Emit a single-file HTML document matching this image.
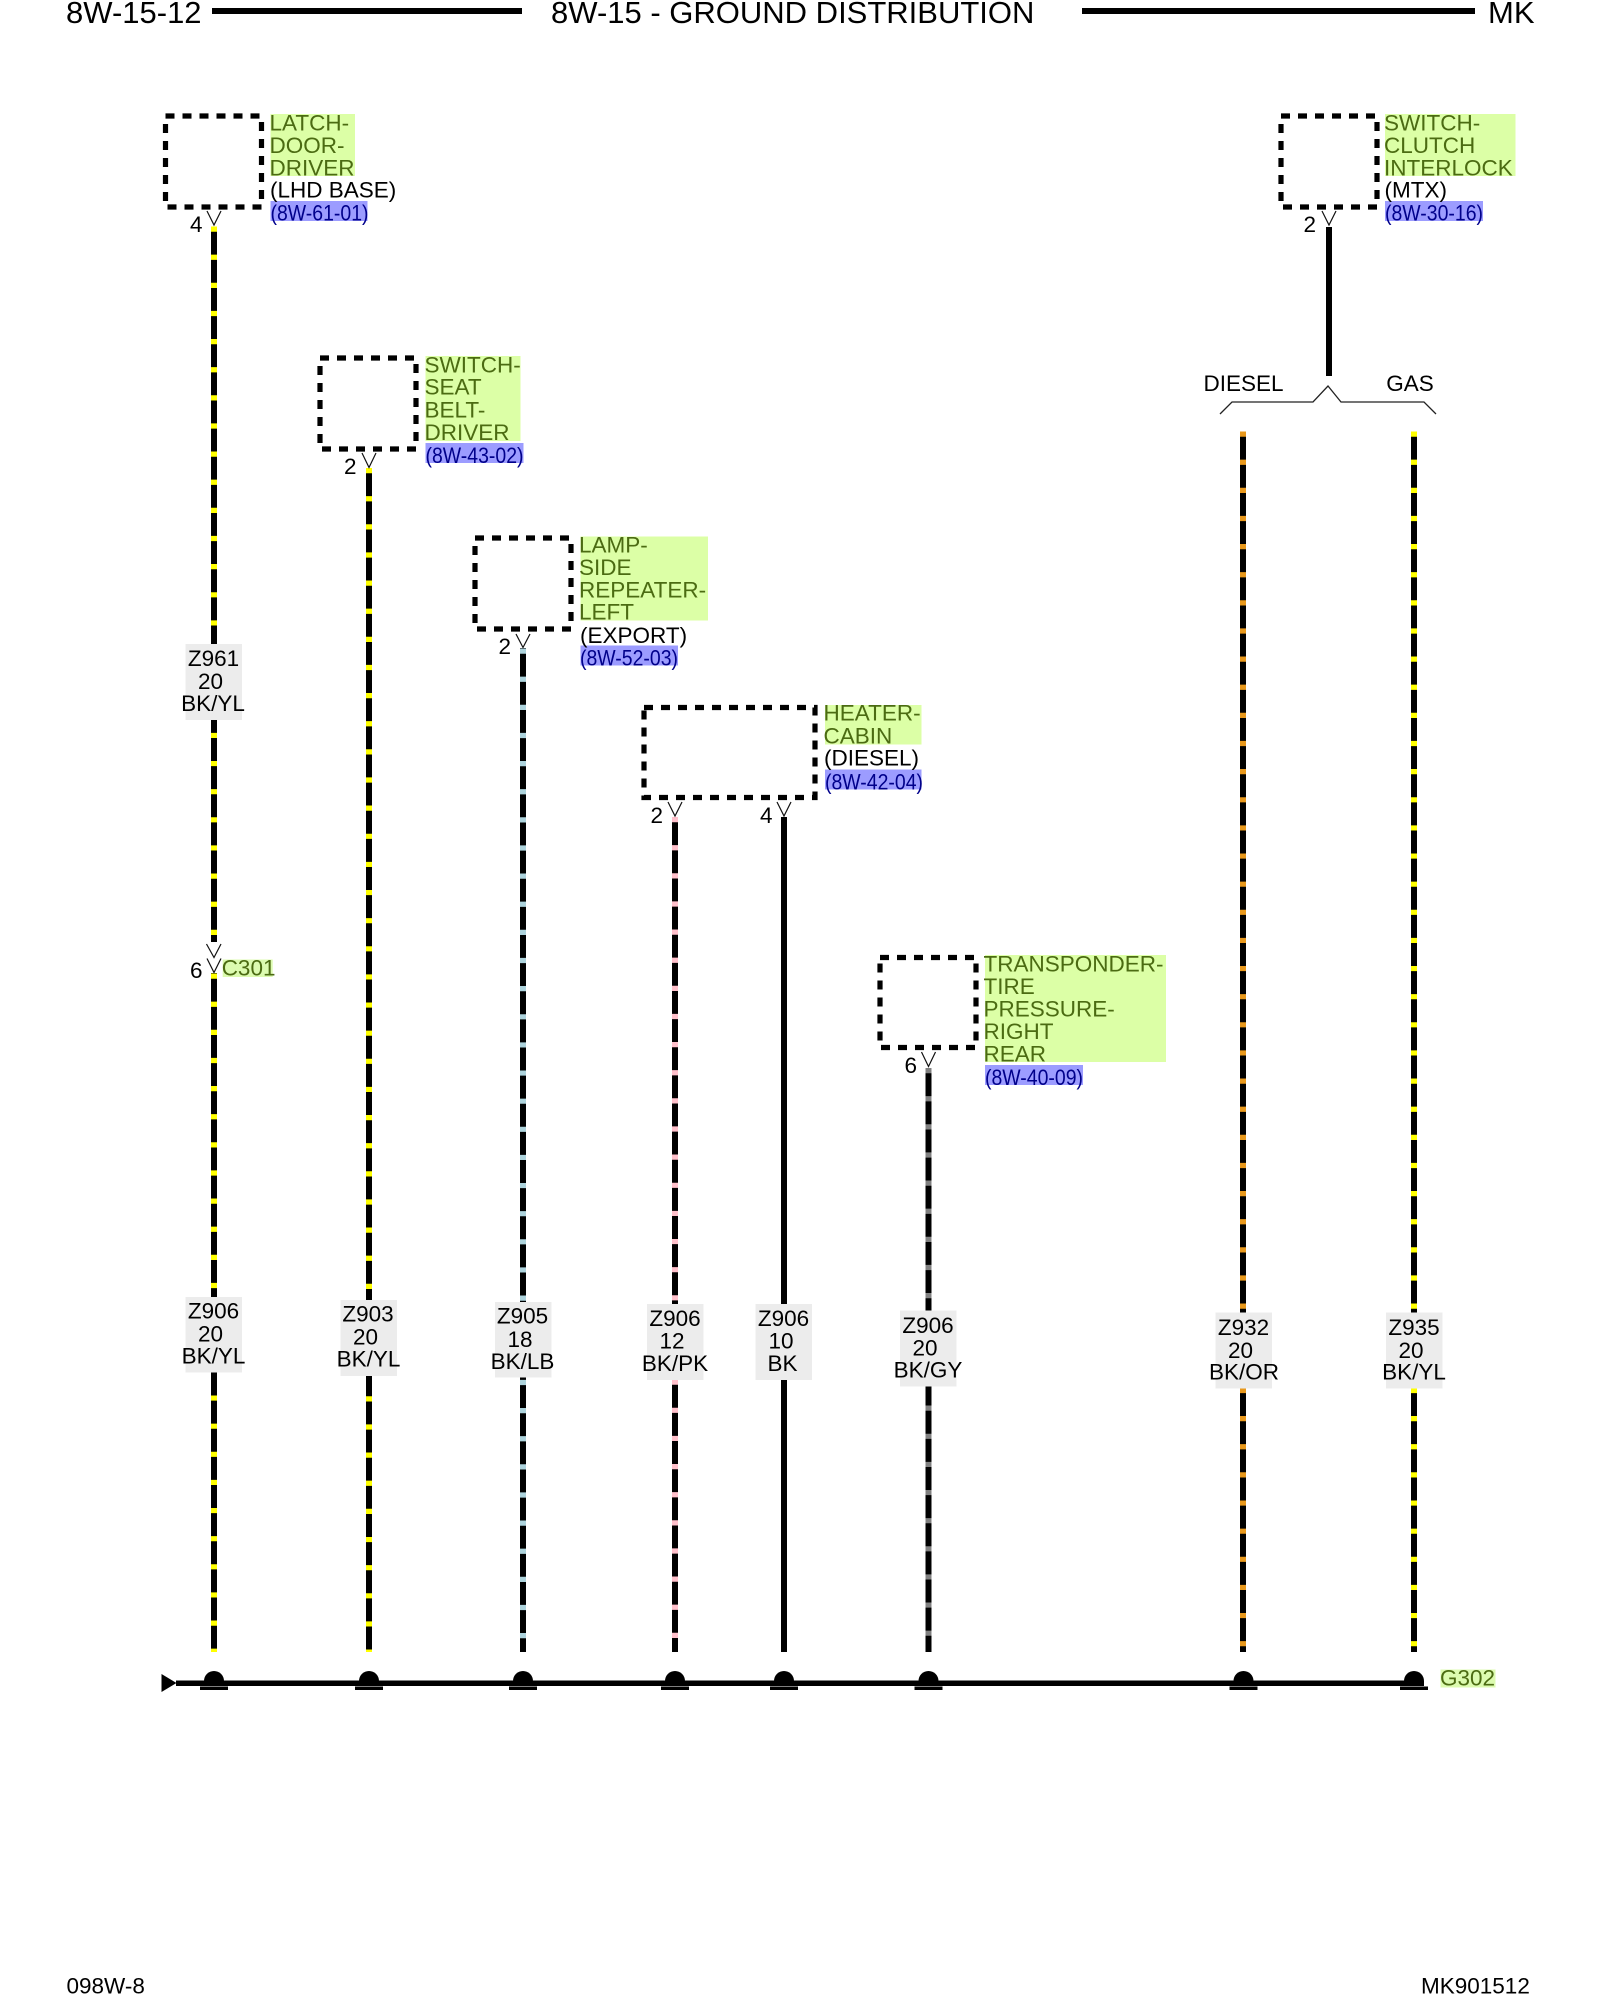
<!DOCTYPE html>
<html><head><meta charset="utf-8"><style>
html,body{margin:0;padding:0;background:#fff;width:1600px;height:2000px;overflow:hidden}
svg{display:block}
text{font-family:"Liberation Sans",Arial,sans-serif;font-size:22.5px;fill:#000}
.h{font-size:31px}
.g{fill:#4b6b12}
.b{fill:#00008b}
.m{text-anchor:middle}
.e{text-anchor:end}
.box{fill:none;stroke:#000;stroke-width:5.2;stroke-dasharray:9 8}
.w{stroke:#000;stroke-width:6;fill:none}
.s{stroke-width:6;stroke-dasharray:5.2 22.93;fill:none}
.v{fill:none;stroke:#111;stroke-width:1.2}
</style></head><body>
<svg width="1600" height="2000" viewBox="0 0 1600 2000" xmlns="http://www.w3.org/2000/svg">
<rect width="1600" height="2000" fill="#fff"/>

<!-- header -->
<text class="h" x="66" y="23">8W-15-12</text>
<rect x="212" y="8" width="310" height="6"/>
<text class="h" x="551" y="23">8W-15 - GROUND DISTRIBUTION</text>
<rect x="1082" y="8" width="393" height="6"/>
<text class="h" x="1488" y="23">MK</text>

<!-- boxes -->
<rect class="box" x="165.500" y="116" width="96" height="91"/>
<rect class="box" x="320" y="358" width="96" height="91"/>
<rect class="box" x="475" y="538" width="96" height="91"/>
<rect class="box" x="644" y="707.500" width="171" height="90"/>
<rect class="box" x="880" y="957.500" width="96" height="90"/>
<rect class="box" x="1281" y="116" width="96" height="91"/>

<!-- wires -->
<line class="w" x1="214" y1="227" x2="214" y2="942"/>
<line class="s" stroke="#ffff00" x1="214" y1="226.500" x2="214" y2="942"/>
<line class="w" x1="214" y1="973" x2="214" y2="1652"/>
<line class="s" stroke="#ffff00" x1="214" y1="973.500" x2="214" y2="1652"/>
<line class="w" x1="369" y1="468" x2="369" y2="1652"/>
<line class="s" stroke="#ffff00" x1="369" y1="468" x2="369" y2="1652"/>
<line class="w" x1="523" y1="648" x2="523" y2="1652"/>
<line class="s" stroke="#add3dc" x1="523" y1="648.500" x2="523" y2="1652"/>
<line class="w" x1="675" y1="817" x2="675" y2="1652"/>
<line class="s" stroke="#ffc0cb" x1="675" y1="817" x2="675" y2="1652"/>
<line class="w" x1="784" y1="817" x2="784" y2="1652"/>
<line class="w" x1="928.500" y1="1068" x2="928.500" y2="1652"/>
<line class="s" stroke="#808080" x1="928.500" y1="1068" x2="928.500" y2="1652"/>
<line class="w" x1="1243" y1="431.500" x2="1243" y2="1652"/>
<line class="s" stroke="#e8981c" x1="1243" y1="431.500" x2="1243" y2="1652"/>
<line class="w" x1="1414" y1="431.500" x2="1414" y2="1652"/>
<line class="s" stroke="#ffff00" x1="1414" y1="431.500" x2="1414" y2="1652"/>
<line class="w" x1="1329" y1="227" x2="1329" y2="376"/>

<!-- connector pins -->
<polyline class="v" points="207,211 214,225 221,211"/><text class="e" x="202.500" y="232">4</text>
<polyline class="v" points="362,453 369,467.500 376,453"/><text class="e" x="356.500" y="474">2</text>
<polyline class="v" points="516,634 523,647.500 530,634"/><text class="e" x="511" y="654">2</text>
<polyline class="v" points="668,802 675,816 682,802"/><text class="e" x="663" y="823">2</text>
<polyline class="v" points="777,802 784,816 791,802"/><text class="e" x="772.500" y="823">4</text>
<polyline class="v" points="921.500,1052 928.500,1066.500 935.500,1052"/><text class="e" x="917" y="1073">6</text>
<polyline class="v" points="1322,211 1329,225 1336,211"/><text class="e" x="1316" y="232">2</text>
<polyline class="v" points="206.500,944 214,957.500 221,944"/>
<polyline class="v" points="207,958.500 214,972.500 221,958.500"/>
<text class="e" x="202.500" y="978">6</text>
<rect x="222.700" y="959.500" width="50" height="17.500" fill="#dcfbb0"/>
<text class="g" x="221.700" y="975.500">C301</text>

<!-- device labels -->
<rect x="270.500" y="114" width="84.500" height="62" fill="#dcffa6"/>
<rect x="270.500" y="201" width="97" height="20" fill="#9c9cff"/>
<text class="g" x="269.500" y="130.500">LATCH-</text>
<text class="g" x="269.500" y="153">DOOR-</text>
<text class="g" x="269.500" y="175.500">DRIVER</text>
<text x="270" y="197.500">(LHD BASE)</text>
<text class="b" x="270.500" y="220.500" textLength="98" lengthAdjust="spacingAndGlyphs">(8W-61-01)</text>

<rect x="425.500" y="356" width="95" height="85" fill="#dcffa6"/>
<rect x="425.500" y="443" width="98" height="20" fill="#9c9cff"/>
<text class="g" x="424.500" y="372.500">SWITCH-</text>
<text class="g" x="424.500" y="394.500">SEAT</text>
<text class="g" x="424.500" y="417.500">BELT-</text>
<text class="g" x="424.500" y="440">DRIVER</text>
<text class="b" x="425.500" y="463" textLength="98" lengthAdjust="spacingAndGlyphs">(8W-43-02)</text>

<rect x="580.500" y="536.500" width="127.500" height="84" fill="#dcffa6"/>
<rect x="580.500" y="645.500" width="97.500" height="20" fill="#9c9cff"/>
<text class="g" x="579" y="552.500">LAMP-</text>
<text class="g" x="579" y="575">SIDE</text>
<text class="g" x="579" y="597.500">REPEATER-</text>
<text class="g" x="579" y="619.500">LEFT</text>
<text x="580" y="643">(EXPORT)</text>
<text class="b" x="580" y="665.500" textLength="98" lengthAdjust="spacingAndGlyphs">(8W-52-03)</text>

<rect x="825" y="705" width="96.500" height="39.500" fill="#dcffa6"/>
<rect x="825" y="769.500" width="96.500" height="20" fill="#9c9cff"/>
<text class="g" x="823.500" y="720.500">HEATER-</text>
<text class="g" x="823.500" y="743.500">CABIN</text>
<text x="824" y="765.500">(DIESEL)</text>
<text class="b" x="825" y="789.500" textLength="98" lengthAdjust="spacingAndGlyphs">(8W-42-04)</text>

<rect x="985" y="955" width="181" height="107" fill="#dcffa6"/>
<rect x="985" y="1065" width="98" height="20" fill="#9c9cff"/>
<text class="g" x="983.500" y="971.500">TRANSPONDER-</text>
<text class="g" x="983.500" y="994">TIRE</text>
<text class="g" x="983.500" y="1016.500">PRESSURE-</text>
<text class="g" x="983.500" y="1039">RIGHT</text>
<text class="g" x="983.500" y="1061.500">REAR</text>
<text class="b" x="985" y="1085" textLength="98" lengthAdjust="spacingAndGlyphs">(8W-40-09)</text>

<rect x="1385" y="114" width="130.500" height="62" fill="#dcffa6"/>
<rect x="1385" y="201" width="98" height="20" fill="#9c9cff"/>
<text class="g" x="1384" y="130.500">SWITCH-</text>
<text class="g" x="1384" y="153">CLUTCH</text>
<text class="g" x="1384" y="175.500">INTERLOCK</text>
<text x="1384.500" y="197.500">(MTX)</text>
<text class="b" x="1385" y="220.500" textLength="98" lengthAdjust="spacingAndGlyphs">(8W-30-16)</text>

<!-- bracket -->
<text class="m" x="1243.500" y="391">DIESEL</text>
<text class="m" x="1410" y="391">GAS</text>
<polyline fill="none" stroke="#222" stroke-width="1.300" points="1220,414 1232,402 1313,402 1328,386 1341,402 1424,402 1436,414"/>

<!-- wire labels -->
<g fill="#ececec">
<rect x="185.500" y="644" width="56.500" height="76"/>
<rect x="185.500" y="1297" width="56.500" height="75.500"/>
<rect x="340.500" y="1300" width="56.500" height="76"/>
<rect x="495" y="1302" width="56.500" height="75.500"/>
<rect x="647" y="1304" width="56.500" height="76"/>
<rect x="755.500" y="1304" width="56.500" height="76"/>
<rect x="900" y="1310.500" width="56.500" height="76"/>
<rect x="1215.500" y="1312.500" width="56.500" height="76"/>
<rect x="1386" y="1312.500" width="56.500" height="76"/>
</g>
<g>
<text class="m" x="213.500" y="666">Z961</text><text class="m" x="210.500" y="689">20</text><text class="m" x="213" y="711">BK/YL</text>
<text class="m" x="213.500" y="1318.500">Z906</text><text class="m" x="210.500" y="1341.500">20</text><text class="m" x="213.500" y="1363.500">BK/YL</text>
<text class="m" x="368" y="1321.500">Z903</text><text class="m" x="365.500" y="1344.500">20</text><text class="m" x="368.500" y="1366.500">BK/YL</text>
<text class="m" x="522.500" y="1323.500">Z905</text><text class="m" x="520" y="1347">18</text><text class="m" x="522.500" y="1369">BK/LB</text>
<text class="m" x="675" y="1326">Z906</text><text class="m" x="672" y="1348.500">12</text><text class="m" x="675" y="1371">BK/PK</text>
<text class="m" x="783.500" y="1326">Z906</text><text class="m" x="781" y="1348.500">10</text><text class="m" x="782.500" y="1371">BK</text>
<text class="m" x="928" y="1333">Z906</text><text class="m" x="925" y="1355.500">20</text><text class="m" x="928" y="1377.500">BK/GY</text>
<text class="m" x="1243.500" y="1335">Z932</text><text class="m" x="1240.500" y="1358">20</text><text class="m" x="1244" y="1379.500">BK/OR</text>
<text class="m" x="1414" y="1335">Z935</text><text class="m" x="1411" y="1358">20</text><text class="m" x="1414" y="1379.500">BK/YL</text>
</g>

<!-- ground bus -->
<rect x="176" y="1680.500" width="1240" height="5.500"/>
<polygon points="161.500,1674 176.500,1683 161.500,1692"/>
<path d="M204,1686V1681A10,10 0 0 1 224,1681V1686Z"/><rect x="200" y="1686.500" width="28" height="3.500"/>
<path d="M359,1686V1681A10,10 0 0 1 379,1681V1686Z"/><rect x="355" y="1686.500" width="28" height="3.500"/>
<path d="M513,1686V1681A10,10 0 0 1 533,1681V1686Z"/><rect x="509" y="1686.500" width="28" height="3.500"/>
<path d="M665,1686V1681A10,10 0 0 1 685,1681V1686Z"/><rect x="661" y="1686.500" width="28" height="3.500"/>
<path d="M774,1686V1681A10,10 0 0 1 794,1681V1686Z"/><rect x="770" y="1686.500" width="28" height="3.500"/>
<path d="M918.500,1686V1681A10,10 0 0 1 938.500,1681V1686Z"/><rect x="914.500" y="1686.500" width="28" height="3.500"/>
<path d="M1233.500,1686V1681A10,10 0 0 1 1253.500,1681V1686Z"/><rect x="1229.500" y="1686.500" width="28" height="3.500"/>
<path d="M1404,1686V1681A10,10 0 0 1 1424,1681V1686Z"/><rect x="1400" y="1686.500" width="28" height="3.500"/>
<rect x="1440.500" y="1669.500" width="55" height="18" fill="#dcfbb0"/>
<text class="g" x="1440" y="1685.500">G302</text>

<!-- footer -->
<text x="66.500" y="1993.500">098W-8</text>
<text x="1421" y="1993.500">MK901512</text>
</svg>
</body></html>
